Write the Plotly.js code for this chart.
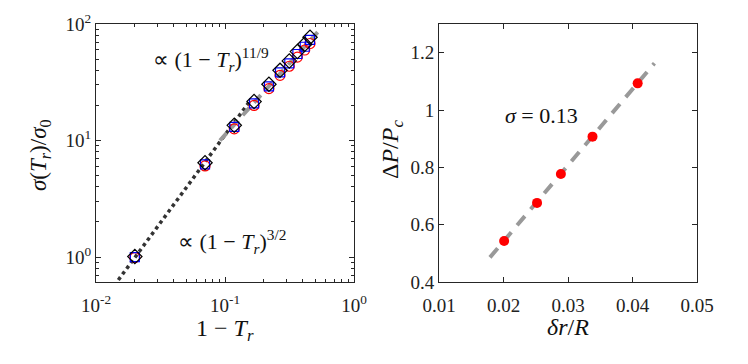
<!DOCTYPE html>
<html>
<head>
<meta charset="utf-8">
<script src="https://cdn.plot.ly/plotly-3.0.1.min.js"></script>
<style>
  body { margin: 0; background: #fff; }
  #grafica { width: 748px; height: 364px; }
</style>
</head>
<body>
<div id="grafica"></div>
<script>
// panel izquierdo: sigma(Tr)/sigma0 frente a 1 - Tr (log-log)
let unoMenosTr = [0.0200, 0.0700, 0.118, 0.168, 0.219, 0.267, 0.315, 0.364, 0.415, 0.456];
let sigmaCuadrados = [1.00, 6.25, 13.1, 20.8, 29.2, 38.4, 46.0, 55.3, 63.8, 73.0];
let sigmaCirculos = [0.99, 6.05, 12.6, 20.0, 27.9, 36.3, 43.4, 52.0, 59.8, 68.0];
let sigmaDiamantes = [1.01, 6.45, 13.5, 21.6, 30.4, 40.0, 48.2, 58.0, 67.0, 77.0];

// rectas de referencia (solo extremos)
let xPend32 = [0.0149, 0.155];
let yPend32 = [0.636, 21.6];
let xPend119 = [0.0914, 0.526];
let yPend119 = [10.0, 85.9];

// panel derecho: DeltaP/Pc frente a dr/R
let drR = [0.0201, 0.0252, 0.0289, 0.0338, 0.0408];
let deltaP = [0.543, 0.676, 0.777, 0.907, 1.093];
let xAjuste = [0.0179, 0.0434];
let yAjuste = [0.486, 1.163];

let ticksXIzq = [0.01, 0.1, 1];
let etiquetasXIzq = ['10<sup>-2</sup>', '10<sup>-1</sup>', '10<sup>0</sup>'];
let ticksYIzq = [1, 10, 100];
let etiquetasYIzq = ['10<sup>0</sup>', '10<sup>1</sup>', '10<sup>2</sup>'];
let ticksXDer = [0.01, 0.02, 0.03, 0.04, 0.05];
let ticksYDer = [0.4, 0.6, 0.8, 1, 1.2];

let menoresX = [], menoresY = [];
[0.01, 0.1].forEach(d => { for (let k = 2; k <= 9; k++) menoresX.push(k * d); });
[0.1, 1, 10].forEach(d => { for (let k = 2; k <= 9; k++) menoresY.push(k * d); });

const fuente = '"Liberation Serif", "Times New Roman", serif';
const colorEje = '#262626';

const ejeBase = {
    showgrid: false, zeroline: false, showline: true, linecolor: colorEje, linewidth: 1,
    mirror: 'allticks', ticks: 'inside', ticklen: 5, tickcolor: colorEje,
    tickfont: { family: fuente, size: 19, color: '#222' }, fixedrange: true
};

const trazas = [
    { x: xPend32, y: yPend32, xaxis: 'x', yaxis: 'y', mode: 'lines',
      line: { color: '#333333', width: 3.5, dash: 'dot' } },
    { x: xPend119, y: yPend119, xaxis: 'x', yaxis: 'y', mode: 'lines',
      line: { color: '#999999', width: 4, dash: '10px,7px' } },
    { x: unoMenosTr, y: sigmaCirculos, xaxis: 'x', yaxis: 'y', mode: 'markers',
      marker: { symbol: 'circle-open', size: 10, color: '#ff0000', line: { width: 1.2 } } },
    { x: unoMenosTr, y: sigmaCuadrados, xaxis: 'x', yaxis: 'y', mode: 'markers',
      marker: { symbol: 'square-open', size: 9, color: '#0000ff', line: { width: 1.2 } } },
    { x: unoMenosTr, y: sigmaDiamantes, xaxis: 'x', yaxis: 'y', mode: 'markers',
      marker: { symbol: 'diamond-open', size: 11, color: '#000000', line: { width: 1.2 } } },
    { x: xAjuste, y: yAjuste, xaxis: 'x2', yaxis: 'y2', mode: 'lines',
      line: { color: '#999999', width: 4, dash: '12px,9px' } },
    { x: drR, y: deltaP, xaxis: 'x2', yaxis: 'y2', mode: 'markers',
      marker: { symbol: 'circle', size: 10, color: '#ff0000' } }
];

function nota(x, y, texto, tam, angulo) {
    return { xref: 'paper', yref: 'paper', x: x / 748, y: (364 - y) / 364, showarrow: false,
             xanchor: 'center', yanchor: 'middle', textangle: angulo || 0,
             text: texto, font: { family: fuente, size: tam, color: '#111' } };
}

const layout = {
    width: 748, height: 364,
    margin: { l: 0, r: 0, t: 0, b: 0 },
    paper_bgcolor: '#ffffff', plot_bgcolor: '#ffffff',
    showlegend: false, hovermode: false,
    font: { family: fuente, color: '#222' },
    xaxis: Object.assign({}, ejeBase, {
        type: 'log', domain: [96 / 748, 354 / 748], range: [-2, 0], anchor: 'y',
        tickmode: 'array', tickvals: ticksXIzq, ticktext: etiquetasXIzq, ticklabelstandoff: 6,
        minor: { tickmode: 'array', tickvals: menoresX, ticks: 'inside', ticklen: 3, tickcolor: colorEje, showgrid: false }
    }),
    yaxis: Object.assign({}, ejeBase, {
        type: 'log', domain: [82 / 364, 340 / 364], range: [-0.214, 2], anchor: 'x',
        tickmode: 'array', tickvals: ticksYIzq, ticktext: etiquetasYIzq,
        minor: { tickmode: 'array', tickvals: menoresY, ticks: 'inside', ticklen: 3, tickcolor: colorEje, showgrid: false }
    }),
    xaxis2: Object.assign({}, ejeBase, {
        domain: [439 / 748, 697 / 748], range: [0.01, 0.05], anchor: 'y2', ticklabelstandoff: 6,
        tickmode: 'array', tickvals: ticksXDer, ticktext: ticksXDer.map(v => v.toFixed(2))
    }),
    yaxis2: Object.assign({}, ejeBase, {
        domain: [82 / 364, 340 / 364], range: [0.4, 1.3], anchor: 'x2',
        tickmode: 'array', tickvals: ticksYDer, ticktext: ticksYDer.map(v => String(v))
    }),
    annotations: [
        nota(225, 330, '1 − <i>T<sub>r</sub></i>', 24),
        nota(40, 155, '<i>σ</i>(<i>T<sub>r</sub></i>)/<i>σ</i><sub>0</sub>', 23, -90),
        nota(211, 60, '∝ (1 − <i>T<sub>r</sub></i>)<sup>11/9</sup>', 22),
        nota(232, 241, '∝ (1 − <i>T<sub>r</sub></i>)<sup>3/2</sup>', 22),
        nota(568, 327, '<i>δr</i>/<i>R</i>', 24),
        nota(392, 150, 'Δ<i>P</i>/<i>P<sub>c</sub></i>', 24, -90),
        nota(541, 115, '<i>σ</i> = 0.13', 22)
    ]
};

Plotly.newPlot('grafica', trazas, layout, { displayModeBar: false, staticPlot: true });
</script>
</body>
</html>
